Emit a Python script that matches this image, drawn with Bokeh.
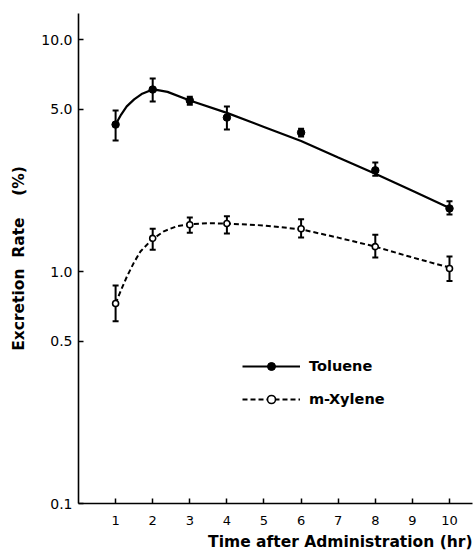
from bokeh.plotting import figure
from bokeh.models import (ColumnDataSource, Whisker, TeeHead, FixedTicker,
                          PrintfTickFormatter, Range1d, Legend, LegendItem)
from bokeh.embed import file_html
from bokeh.resources import INLINE

# ---- data ----
hours = [1, 2, 3, 4, 6, 8, 10]

toluene_mean = [4.30, 6.09, 5.46, 4.61, 3.97, 2.73, 1.87]
toluene_upper = [4.94, 6.79, 5.67, 5.14, 4.13, 2.95, 2.01]
toluene_lower = [3.67, 5.40, 5.23, 4.09, 3.82, 2.59, 1.76]

xylene_mean = [0.728, 1.39, 1.59, 1.61, 1.53, 1.28, 1.03]
xylene_upper = [0.87, 1.53, 1.71, 1.73, 1.68, 1.44, 1.16]
xylene_lower = [0.61, 1.24, 1.47, 1.46, 1.40, 1.15, 0.91]

# fitted curves as drawn in the figure
toluene_curve_x = [1, 1.15, 1.3, 1.5, 1.7, 1.9, 2.1, 2.4, 3.0, 4.0, 5, 6, 7, 8, 9, 10]
toluene_curve_y = [4.3, 4.75, 5.15, 5.52, 5.82, 6.0, 6.07, 5.95, 5.46, 4.83, 4.2, 3.65, 3.1, 2.64, 2.23, 1.88]

xylene_curve_x = [1, 1.13, 1.31, 1.49, 1.67, 1.97, 2.3, 2.66, 3.0, 3.5, 4.0, 5, 6, 7, 8, 9, 10]
xylene_curve_y = [0.728, 0.82, 0.955, 1.09, 1.22, 1.37, 1.49, 1.57, 1.60, 1.615, 1.61, 1.58, 1.52, 1.40, 1.28, 1.15, 1.04]

x_ticks = [1, 2, 3, 4, 5, 6, 7, 8, 9, 10]
y_ticks = [0.1, 0.5, 1, 5, 10]

FONT = "DejaVu Sans"

p = figure(width=474, height=556, y_axis_type="log",
           x_range=Range1d(0, 10.62), y_range=Range1d(0.1, 12.95),
           output_backend="svg", toolbar_location=None,
           title="Time after Administration (hr)", title_location="below",
           min_border_left=78, min_border_right=2, min_border_top=13,
           min_border_bottom=53)

p.outline_line_color = None
p.grid.visible = False
p.background_fill_color = "white"
p.border_fill_color = "white"

# title (x-axis caption, right aligned)
p.title.align = "right"
p.title.text_font = FONT
p.title.text_font_style = "bold"
p.title.text_font_size = "15.5px"
p.title.text_color = "black"
p.title.standoff = 6

# x axis
xa = p.xaxis[0]
xa.ticker = FixedTicker(ticks=x_ticks)
xa.axis_line_width = 1.6
xa.axis_line_color = "black"
xa.major_tick_in = 5
xa.major_tick_out = 0
xa.major_tick_line_width = 1.5
xa.minor_tick_line_color = None
xa.major_label_standoff = 12
xa.major_label_text_font = FONT
xa.major_label_text_font_size = "13px"
xa.major_label_text_color = "black"

# y axis
ya = p.yaxis[0]
ya.ticker = FixedTicker(ticks=y_ticks)
ya.formatter = PrintfTickFormatter(format="%.1f")
ya.axis_line_width = 1.6
ya.axis_line_color = "black"
ya.major_tick_in = 5
ya.major_tick_out = 0
ya.major_tick_line_width = 1.5
ya.minor_tick_line_color = None
ya.major_label_standoff = 6
ya.major_label_text_font = FONT
ya.major_label_text_font_size = "14px"
ya.major_label_text_color = "black"
ya.axis_label = "Excretion\u00a0\u00a0Rate\u00a0\u00a0\u00a0\u00a0(%)"
ya.axis_label_text_font = FONT
ya.axis_label_text_font_style = "bold"
ya.axis_label_text_font_size = "15.5px"
ya.axis_label_text_color = "black"
ya.axis_label_standoff = 10

# error bars
tol_src = ColumnDataSource(dict(x=hours, y=toluene_mean, upper=toluene_upper, lower=toluene_lower))
xyl_src = ColumnDataSource(dict(x=hours, y=xylene_mean, upper=xylene_upper, lower=xylene_lower))

for src in (tol_src, xyl_src):
    w = Whisker(source=src, base="x", upper="upper", lower="lower",
                line_color="black", line_width=2,
                upper_head=TeeHead(size=6, line_width=2, line_color="black"),
                lower_head=TeeHead(size=6, line_width=2, line_color="black"))
    p.add_layout(w)

# curves
tol_line = p.line(toluene_curve_x, toluene_curve_y, line_color="black", line_width=2.2)
xyl_line = p.line(xylene_curve_x, xylene_curve_y, line_color="black", line_width=2,
                  line_dash="5 3")

# markers
tol_pts = p.scatter("x", "y", source=tol_src, size=7.5, marker="circle",
                    fill_color="black", line_color="black")
xyl_pts = p.scatter("x", "y", source=xyl_src, size=6, marker="circle",
                    fill_color="white", line_color="black", line_width=1.6)

legend = Legend(items=[LegendItem(label="Toluene", renderers=[tol_line, tol_pts]),
                       LegendItem(label="m-Xylene", renderers=[xyl_line, xyl_pts])],
                location=(164, 94), orientation="vertical",
                padding=0, margin=0, spacing=13,
                glyph_width=58, glyph_height=20, label_height=20,
                label_standoff=9,
                label_text_font=FONT, label_text_font_style="bold",
                label_text_font_size="14.5px", label_text_color="black",
                border_line_color=None, background_fill_alpha=0)
p.add_layout(legend, "center")

open("out.html", "w").write(file_html(p, INLINE))
